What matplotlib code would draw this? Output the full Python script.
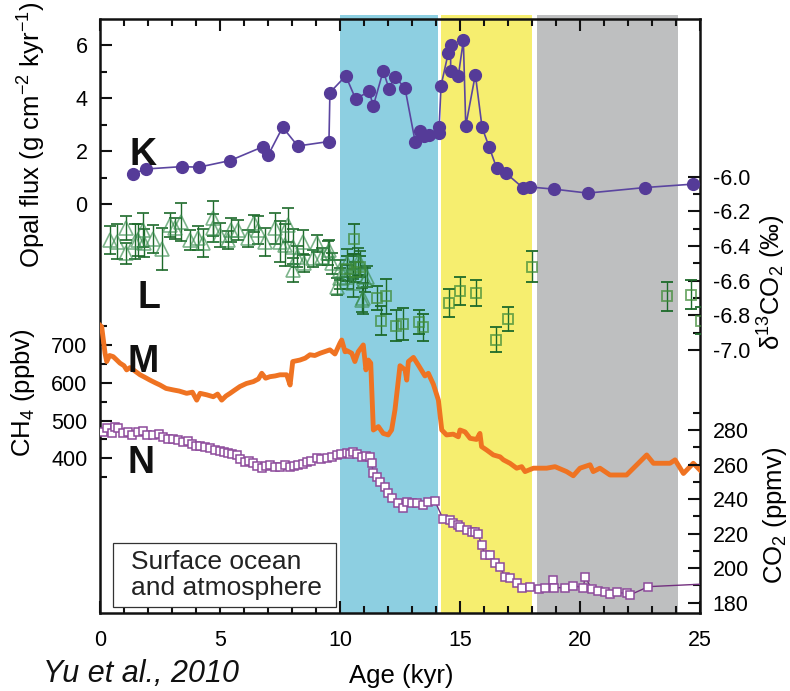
import matplotlib
matplotlib.use('Agg')
import matplotlib.pyplot as plt
from matplotlib.patches import Rectangle

plt.rcParams['font.family'] = ['Liberation Sans', 'DejaVu Sans']
plt.rcParams['mathtext.fontset'] = 'custom'
plt.rcParams['mathtext.rm'] = 'Liberation Sans'
plt.rcParams['mathtext.it'] = 'Liberation Sans:italic'
plt.rcParams['mathtext.bf'] = 'Liberation Sans:bold'

# ---------------- data ----------------
# K: opal flux
K_age = [1.39, 1.90, 3.40, 4.12, 5.42, 6.81, 7.01, 7.61, 8.24, 9.54, 9.58, 10.24, 10.65,
         11.21, 11.39, 11.80, 12.04, 12.29, 12.71, 13.13, 13.33, 13.50, 13.72, 14.13, 14.13,
         14.21, 14.51, 14.61, 14.61, 14.93, 15.14, 15.24, 15.64, 15.92, 16.22, 16.53, 16.92,
         17.61, 17.92, 18.92, 20.32, 22.71, 24.72]
K_opal = [1.15, 1.33, 1.42, 1.40, 1.65, 2.18, 1.86, 2.91, 2.20, 2.37, 4.22, 4.85, 3.98,
          4.26, 3.72, 5.04, 4.37, 4.82, 4.38, 2.37, 2.77, 2.58, 2.62, 2.68, 2.90,
          4.48, 5.71, 6.02, 5.05, 4.85, 6.19, 2.96, 4.90, 2.90, 2.15, 1.36, 1.17,
          0.63, 0.65, 0.57, 0.42, 0.63, 0.76]

# L: d13C of CO2 (triangles and squares)
Ltri_age = [0.42, 0.69, 1.08, 1.10, 1.46, 1.57, 1.81, 1.85, 2.22, 2.57, 2.92, 3.12, 3.37,
            3.75, 4.10, 4.31, 4.69, 4.72, 5.00, 5.35, 5.46, 5.76, 6.18, 6.43, 6.60, 6.87,
            7.29, 7.50, 7.71, 7.85, 8.06, 8.06, 8.20, 8.47, 8.50, 8.89, 9.03, 9.24, 9.51,
            9.55, 9.65, 9.86, 10.00, 10.00, 10.28, 10.28, 10.55, 10.55, 10.76, 10.83, 10.90,
            10.94, 11.04, 11.11]
Ltri_d13c = [-6.365, -6.375, -6.298, -6.442, -6.375, -6.365, -6.308, -6.384, -6.361, -6.419,
             -6.279, -6.298, -6.260, -6.365, -6.355, -6.384, -6.240, -6.298, -6.336, -6.365,
             -6.308, -6.308, -6.355, -6.269, -6.308, -6.375, -6.298, -6.375, -6.394, -6.279,
             -6.404, -6.538, -6.461, -6.375, -6.500, -6.471, -6.384, -6.461, -6.442, -6.423,
             -6.500, -6.634, -6.538, -6.586, -6.577, -6.500, -6.519, -6.615, -6.490, -6.500,
             -6.711, -6.702, -6.596, -6.577]
Ltri_err = [0.08, 0.10, 0.07, 0.06, 0.10, 0.09, 0.10, 0.08, 0.08, 0.12, 0.07, 0.06, 0.11,
            0.06, 0.07, 0.08, 0.10, 0.08, 0.07, 0.05, 0.07, 0.06, 0.05, 0.05, 0.08, 0.08,
            0.09, 0.12, 0.12, 0.10, 0.10, 0.07, 0.06, 0.07, 0.05, 0.05, 0.05, 0.05, 0.07,
            0.06, 0.06, 0.05, 0.06, 0.06, 0.07, 0.08, 0.07, 0.08, 0.08, 0.07, 0.07, 0.09,
            0.07, 0.06]
Lsq_age = [10.30, 10.60, 10.62, 10.85, 11.55, 11.71, 11.90, 12.33, 12.64, 13.30, 13.44,
           14.55, 15.00, 15.67, 16.49, 16.99, 18.01, 23.61, 24.63, 25.05]
Lsq_d13c = [-6.53, -6.36, -6.55, -6.52, -6.70, -6.83, -6.69, -6.86, -6.85, -6.84, -6.87,
            -6.73, -6.66, -6.67, -6.94, -6.82, -6.52, -6.69, -6.68, -6.83]
Lsq_err = [0.07, 0.085, 0.06, 0.06, 0.07, 0.085, 0.10, 0.09, 0.09, 0.07, 0.08,
           0.08, 0.08, 0.075, 0.07, 0.07, 0.09, 0.085, 0.085, 0.08]

# M: CH4
M_age = [0.0, 0.07, 0.14, 0.21, 0.28, 0.4, 0.55, 0.7, 0.83, 1.0, 1.11, 1.25, 1.39, 1.67,
         1.85, 2.08, 2.3, 2.5, 2.75, 3.05, 3.3, 3.61, 3.85, 4.03, 4.17, 4.45, 4.72, 4.9,
         5.07, 5.25, 5.42, 5.6, 5.83, 6.1, 6.39, 6.6, 6.74, 6.9, 7.08, 7.3, 7.5, 7.78,
         7.92, 8.03, 8.33, 8.55, 8.75, 8.95, 9.17, 9.4, 9.58, 9.79, 10.0, 10.07, 10.21,
         10.28, 10.49, 10.62, 10.76, 10.97, 11.08, 11.18, 11.28, 11.39, 11.6, 11.8, 12.01,
         12.15, 12.29, 12.5, 12.71, 12.78, 12.85, 13.06, 13.26, 13.54, 13.68, 13.89, 14.03,
         14.1, 14.24, 14.44, 14.72, 14.93, 15.0, 15.21, 15.42, 15.69, 15.83, 15.9, 16.11,
         16.39, 16.67, 16.81, 17.08, 17.36, 17.57, 17.71, 18.06, 18.61, 18.96, 19.44,
         19.72, 20.0, 20.42, 20.55, 20.83, 21.25, 21.94, 22.78, 23.06, 23.75, 23.96,
         24.31, 24.72, 25.0]
M_ch4 = [752, 748, 713, 678, 656, 672, 669, 660, 652, 645, 634, 640, 634, 621,
         615, 607, 600, 594, 585, 581, 578, 572, 575, 554, 572, 568, 563, 570,
         554, 565, 572, 580, 590, 598, 603, 610, 625, 612, 616, 618, 621, 621,
         594, 656, 660, 665, 674, 672, 678, 683, 687, 676, 705, 713, 682,
         685, 678, 656, 682, 700, 634, 660, 652, 475, 484, 466, 462,
         475, 528, 645, 634, 607, 656, 667, 647, 618, 625, 596, 568,
         554, 475, 462, 464, 457, 475, 470, 453, 450, 466, 431, 422,
         409, 404, 396, 387, 374, 378, 365, 374, 374, 378, 365,
         354, 374, 383, 365, 374, 356, 356, 409, 387, 387, 396,
         360, 387, 369]

# N: CO2
N_age = [0.14, 0.28, 0.49, 0.62, 0.76, 0.97, 1.15, 1.32, 1.6, 1.78, 1.94, 2.22, 2.45, 2.64,
         2.85, 3.06, 3.25, 3.47, 3.65, 3.82, 4.0, 4.17, 4.38, 4.58, 4.8, 5.0, 5.17, 5.35,
         5.52, 5.69, 5.85, 6.04, 6.2, 6.39, 6.55, 6.74, 6.9, 7.08, 7.3, 7.5, 7.7, 7.92,
         8.1, 8.26, 8.45, 8.61, 8.8, 9.03, 9.22, 9.44, 9.65, 9.86, 10.05, 10.28, 10.42,
         10.55, 10.72, 10.9, 11.08, 11.25, 11.32, 11.39, 11.53, 11.67, 11.88, 12.01, 12.15,
         12.43, 12.64, 12.78, 13.0, 13.19, 13.47, 13.68, 13.96, 14.3, 14.58, 14.72, 14.93,
         15.0, 15.28, 15.49, 15.63, 15.76, 15.9, 16.04, 16.25, 16.46, 16.67, 16.88, 17.08,
         17.36, 17.57, 17.92, 18.31, 18.54, 18.86, 18.92, 19.38, 19.72, 20.14, 20.21,
         20.49, 20.76, 21.04, 21.25, 21.53, 21.94, 22.08, 22.85, 26.0]
N_co2 = [279, 281, 278, 282, 281, 278, 279, 277, 279, 279.5, 277, 277, 277.5, 276,
         275, 274.6, 274, 273, 273.5, 272, 271, 271, 270, 269.4, 268.5, 268, 267, 266.5,
         266, 265.5, 263, 261.6, 262, 260.7, 259, 257.8, 259, 259.7, 258.5, 258.8, 259.5, 258.8,
         259, 259.7, 260.5, 261.6, 262, 263.6, 263.5, 264, 264.5, 265.5, 266, 266.5, 266,
         267.4, 266, 264.5, 265, 264.5, 260.7, 255, 253, 250, 247, 243.4, 240.5,
         237.6, 234.7, 238.5, 238, 237.6, 236.6, 238.5, 238.7, 228.3, 227.9, 226, 225,
         224, 222, 221, 221, 219.8, 213.4, 207.6, 207.6, 203.2, 200.5, 195, 194.1,
         191.2, 188.7, 189.3, 187.7, 188.7, 193.1, 188.7, 188.7, 189.8, 188.7, 195,
         188, 186.8, 186.4, 184.9, 186, 185.4, 184.5, 189.3, 191.35]

# shaded intervals (kyr)
bands = [(10.0, 14.1, '#8dcfe1'), (14.2, 18.0, '#f6ee6f'), (18.2, 24.1, '#bebfc0')]
x_major = [0, 5, 10, 15, 20, 25]

# ---------------- figure ----------------
W, H = 790, 691
fig = plt.figure(figsize=(W / 100, H / 100), dpi=100)
Lp, Bp, Rp, Tp = 100, 613, 700, 19
pos = [Lp / W, 1 - Bp / H, (Rp - Lp) / W, (Bp - Tp) / H]

def fx(p):
    return p / W

def fy(p):
    return 1 - p / H

TL = 15.5
MAJ, MIN, TW = 8.6, 5.0, 1.5

ax = fig.add_axes(pos)
ax.set_xlim(0, 25)
ax.set_ylim(0, 1)
ax.set_yticks([])
for a0, a1, c in bands:
    ax.axvspan(a0, a1, ymin=0, ymax=1.006, color=c, lw=0, zorder=0.5, clip_on=False)
for s in ax.spines.values():
    s.set_linewidth(1.8)
    s.set_color('#111111')
ax.set_xticks(x_major)
ax.set_xticks(range(26), minor=True)
ax.tick_params(axis='x', which='both', direction='in', top=True, bottom=True,
               width=TW, color='#111111', labelsize=TL, pad=12)
ax.tick_params(axis='x', which='major', length=MAJ)
ax.tick_params(axis='x', which='minor', length=MIN)


def overlay(ylim, major, minor, side):
    a = fig.add_axes(pos, sharex=ax)
    a.patch.set_visible(False)
    for s in a.spines.values():
        s.set_visible(False)
    a.tick_params(axis='x', which='both', bottom=False, top=False,
                  labelbottom=False, labeltop=False)
    a.set_ylim(*ylim)
    a.set_yticks(major)
    a.set_yticks(minor, minor=True)
    if side == 'right':
        a.yaxis.tick_right()
    else:
        a.yaxis.tick_left()
    a.tick_params(axis='y', which='both', direction='in', width=TW, color='#111111',
                  labelsize=TL, pad=9)
    a.tick_params(axis='y', which='major', length=MAJ)
    a.tick_params(axis='y', which='minor', length=MIN)
    return a

ax_l = overlay((-8.518, -5.09), [-7.0, -6.8, -6.6, -6.4, -6.2, -6.0],
               [-6.9, -6.7, -6.5, -6.3, -6.1], 'right')
ax_l.yaxis.set_major_formatter(matplotlib.ticker.FormatStrFormatter('%.1f'))
ax_m = overlay((-9, 1562), [400, 500, 600, 700], [350, 450, 550, 650, 750], 'left')
ax_n = overlay((174.04, 518), [180, 200, 220, 240, 260, 280],
               [190, 210, 230, 250, 270, 290], 'right')
ax_k = overlay((-15.45, 7.0), [0, 2, 4, 6], [1, 3, 5], 'left')

# L series
ax_l.errorbar(Ltri_age, Ltri_d13c, yerr=Ltri_err, fmt='^', ms=10, mfc='none',
              mec=(0.22, 0.55, 0.30, 0.65), mew=1.2, ecolor='#1d6a2a',
              elinewidth=1.0, capsize=4, capthick=1.0)
ax_l.errorbar(Lsq_age, Lsq_d13c, yerr=Lsq_err, fmt='s', ms=7, mfc='none',
              mec=(0.25, 0.55, 0.22, 0.75), mew=1.3, ecolor='#1d6a2a',
              elinewidth=1.0, capsize=4, capthick=1.0)

# M series
ax_m.plot(M_age, M_ch4, color='#ef7322', lw=3.5, solid_joinstyle='round')

# N series
ax_n.plot(N_age, N_co2, color='#73307f', lw=1.0, marker='s', ms=5.5, mfc='white',
          mec='#8d4a9b', mew=1.1)

# K series
ax_k.plot(K_age, K_opal, color='#5b45a0', lw=1.2, marker='o', ms=8.5,
          mfc='#553b98', mec='#553b98')

# axis labels
LS = 18.5
fig.text(fx(32), fy(135), r'Opal flux (g cm$^{-2}$ kyr$^{-1}$)', rotation=90,
         ha='center', va='center', fontsize=LS)
fig.text(fx(23), fy(393), r'CH$_4$ (ppbv)', rotation=90, ha='center', va='center',
         fontsize=LS)
fig.text(fx(772), fy(282), 'δ' + r'$^{13}$CO$_2$ (‰)', rotation=90, ha='center',
         va='center', fontsize=LS)
fig.text(fx(775), fy(515), r'CO$_2$ (ppmv)', rotation=90, ha='center', va='center',
         fontsize=LS)
fig.text(fx(401), fy(683), 'Age (kyr)', ha='center', va='baseline', fontsize=LS)

# panel letters
for letter, xp, yp in [('K', 130, 165), ('L', 138, 308), ('M', 128, 372), ('N', 128, 473)]:
    fig.text(fx(xp), fy(yp), letter, ha='left', va='baseline', fontsize=27,
             fontweight='bold', color='#111111')

# text box
fig.add_artist(Rectangle((fx(113), fy(607)), (336 - 113) / W, (607 - 543) / H,
                         transform=fig.transFigure, fill=True, fc='white',
                         ec='#333333', lw=0.9))
fig.text(fx(131), fy(575), 'Surface ocean\nand atmosphere', ha='left', va='center',
         fontsize=19, linespacing=1.15, color='#222222')

# citation
fig.text(fx(43), fy(689), 'Yu et al., 2010', ha='left', va='bottom', fontsize=22,
         style='italic', color='#111111')

fig.savefig('out.png', dpi=100)
